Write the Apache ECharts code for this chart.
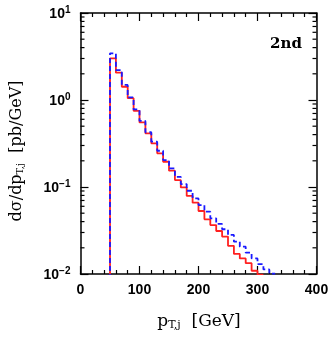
<!DOCTYPE html>
<html><head><meta charset="utf-8">
<script src="https://cdn.jsdelivr.net/npm/echarts@6/dist/echarts.min.js"></script>
<style>html,body{margin:0;padding:0;background:#fff}#c{width:332px;height:337px}</style>
</head><body><div id="c"></div>
<script>
// Data (bins of 10 GeV starting at 50 GeV)
const binStart = 50;
const binWidth = 10;
const redValues = [3.01, 2.06, 1.42, 1.05, 0.75, 0.553, 0.414, 0.318, 0.244, 0.195, 0.154, 0.120, 0.099, 0.079, 0.066, 0.053, 0.0425, 0.0365, 0.0312, 0.0269, 0.0211, 0.0170, 0.0151, 0.0133, 0.0109, 0.0098];
const blueValues = [3.44, 2.21, 1.49, 1.07, 0.78, 0.574, 0.426, 0.332, 0.261, 0.204, 0.164, 0.131, 0.108, 0.0906, 0.074, 0.062, 0.052, 0.0436, 0.0376, 0.0327, 0.0281, 0.0235, 0.0206, 0.0176, 0.0151, 0.0130, 0.0113, 0.0101];
const xMin = 0, xMax = 400, xInterval = 100;
const yMin = 0.01, yMax = 10;
const yMinorFactors = [2,3,4,5,6,7,8,9];
const labelText = '2nd';

function stepData(vals){
  const d = [[binStart, 1e-5]];
  vals.forEach((v,i)=>d.push([binStart + i*binWidth, v]));
  d.push([binStart + vals.length*binWidth, vals[vals.length-1]]);
  return d;
}

const chart = echarts.init(document.getElementById('c'), null, {renderer:'canvas'});
const tickFont = 'Liberation Sans';
const axisLineStyle = {color:'#000', width:1.5};
function xAxisDef(pos, showLabels){
  return {
    type:'value', position:pos, min:xMin, max:xMax, interval:xInterval,
    axisLine:{show:true, onZero:false, lineStyle:axisLineStyle},
    axisTick:{show:true, inside:true, length:8, lineStyle:{color:'#000', width:1.2}},
    minorTick:{show:true, splitNumber:5, length:4, lineStyle:{color:'#000', width:1.2}},
    splitLine:{show:false},
    axisLabel:{show:showLabels, color:'#000', fontFamily:tickFont, fontWeight:'bold', fontSize:14, margin:9}
  };
}
function yAxisDef(pos, showLabels){
  return {
    type:'log', logBase:10, position:pos, min:yMin, max:yMax,
    axisLine:{show:true, onZero:false, lineStyle:axisLineStyle},
    axisTick:{show:true, inside:true, length:8, lineStyle:{color:'#000', width:1.2}},
    splitLine:{show:false},
    axisLabel:{show:showLabels, color:'#000', fontFamily:tickFont, fontWeight:'bold', fontSize:14, margin:10,
      formatter:function(v){ const e = Math.round(Math.log10(v)); return '{b|10}{s|' + String(e).replace('-', '\u2212') + '}'; },
      rich:{
        b:{fontFamily:tickFont, fontWeight:'bold', fontSize:14, color:'#000', verticalAlign:'bottom'},
        s:{fontFamily:tickFont, fontWeight:'bold', fontSize:10, color:'#000', verticalAlign:'top', padding:[0,0,6,0]}
      }
    }
  };
}

chart.setOption({
  animation:false,
  grid:{left:80.5, right:15.5, top:13, bottom:63, containLabel:false},
  xAxis:[xAxisDef('bottom', true), xAxisDef('top', false)],
  yAxis:[yAxisDef('left', true), yAxisDef('right', false)],
  series:[
    {type:'line', step:'end', data:stepData(redValues), showSymbol:false, symbol:'none', clip:true,
     lineStyle:{color:'#ff2020', width:1.8}, z:2},
    {type:'line', step:'end', data:stepData(blueValues), showSymbol:false, symbol:'none', clip:true,
     lineStyle:{color:'#1a1aff', width:1.8, type:[5,3]}, z:3}
  ]
});

// minor log ticks and annotations
const g = [];
const x0 = chart.convertToPixel({xAxisIndex:0}, xMin);
const x1 = chart.convertToPixel({xAxisIndex:0}, xMax);
for (let e = Math.round(Math.log10(yMin)); e < Math.round(Math.log10(yMax)); e++){
  yMinorFactors.forEach(f=>{
    const y = chart.convertToPixel({yAxisIndex:0}, f*Math.pow(10,e));
    g.push({type:'line', shape:{x1:x0, y1:y, x2:x0+4, y2:y}, style:{stroke:'#000', lineWidth:1.2}});
    g.push({type:'line', shape:{x1:x1, y1:y, x2:x1-4, y2:y}, style:{stroke:'#000', lineWidth:1.2}});
  });
}
g.push({type:'text', x:286, y:44, style:{text:labelText, font:'bold 15px "DejaVu Serif"', fill:'#000', align:'center', verticalAlign:'middle'}});
g.push({type:'text', x:199, y:322, style:{
  text:'{m|p}{sub|T,j}{m|  [GeV]}', align:'center', verticalAlign:'middle',
  rich:{m:{font:'17px "DejaVu Serif"', fill:'#000'}, sub:{font:'11px "DejaVu Serif"', fill:'#000', verticalAlign:'bottom', padding:[5,0,0,0]}}
}});
g.push({type:'text', x:17, y:151, rotation:Math.PI/2, style:{
  text:'{m|d\u03c3/dp}{sub|T,j}{m|  [pb/GeV]}', align:'center', verticalAlign:'middle',
  rich:{m:{font:'16px "DejaVu Serif"', fill:'#000'}, sub:{font:'10px "DejaVu Serif"', fill:'#000', verticalAlign:'bottom', padding:[5,0,0,0]}}
}});
chart.setOption({graphic:g});
</script></body></html>
